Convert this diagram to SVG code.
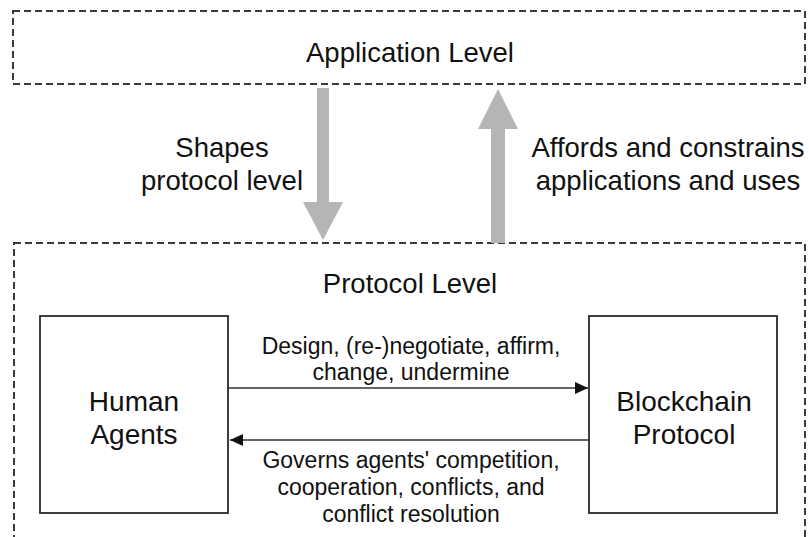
<svg xmlns="http://www.w3.org/2000/svg" width="809" height="537" viewBox="0 0 809 537">
<style>
text{font-family:"Liberation Sans",Arial,sans-serif;fill:#111;text-anchor:middle}
.big{font-size:27.5px}
.nd{font-size:28px}
.sm{font-size:23px}
.level{fill:none;stroke:#3a3a3a;stroke-width:2;stroke-dasharray:7 4}
.node{fill:#fff;stroke:#2a2a2a;stroke-width:1.8}
.conn{fill:none;stroke:#333;stroke-width:1.6}
.big-arrow{fill:#b5b5b5}
</style>
<defs>
<marker id="ah" markerWidth="13" markerHeight="12" refX="13" refY="6" orient="auto" markerUnits="userSpaceOnUse">
<path d="M0,0 L13,6 L0,12 z" fill="#111"/>
</marker>
</defs>
<rect width="809" height="537" fill="#fff"/>
<g id="application-level">
<rect class="level" x="13" y="11" width="792" height="73"/>
<text class="big" x="410" y="62">Application Level</text>
</g>
<g id="protocol-level">
<rect class="level" x="14" y="243" width="791" height="310"/>
<text class="big" x="410" y="293">Protocol Level</text>
</g>
<g id="human-agents">
<rect class="node" x="40" y="316" width="188" height="197"/>
<text class="nd" x="134" y="411">Human</text>
<text class="nd" x="134" y="444">Agents</text>
</g>
<g id="blockchain-protocol">
<rect class="node" x="589" y="316" width="188" height="197"/>
<text class="nd" x="684" y="411">Blockchain</text>
<text class="nd" x="684" y="444">Protocol</text>
</g>
<g id="connectors">
<path class="big-arrow" d="M317,88 H329 V202 H343 L323,240 L303,202 H317 Z"/>
<text class="big" x="222" y="157">Shapes</text>
<text class="big" x="222" y="190">protocol level</text>
<path class="big-arrow" d="M491,243 H505 V129 H518 L498,89 L478,129 H491 Z"/>
<text class="big" x="668" y="157">Affords and constrains</text>
<text class="big" x="668" y="190">applications and uses</text>
<line class="conn" x1="228" y1="388" x2="588" y2="388" marker-end="url(#ah)"/>
<text class="sm" x="411" y="354">Design, (re-)negotiate, affirm,</text>
<text class="sm" x="411" y="380">change, undermine</text>
<line class="conn" x1="589" y1="440" x2="230" y2="440" marker-end="url(#ah)"/>
<text class="sm" x="411" y="468">Governs agents' competition,</text>
<text class="sm" x="411" y="495">cooperation, conflicts, and</text>
<text class="sm" x="411" y="522">conflict resolution</text>
</g>
</svg>
